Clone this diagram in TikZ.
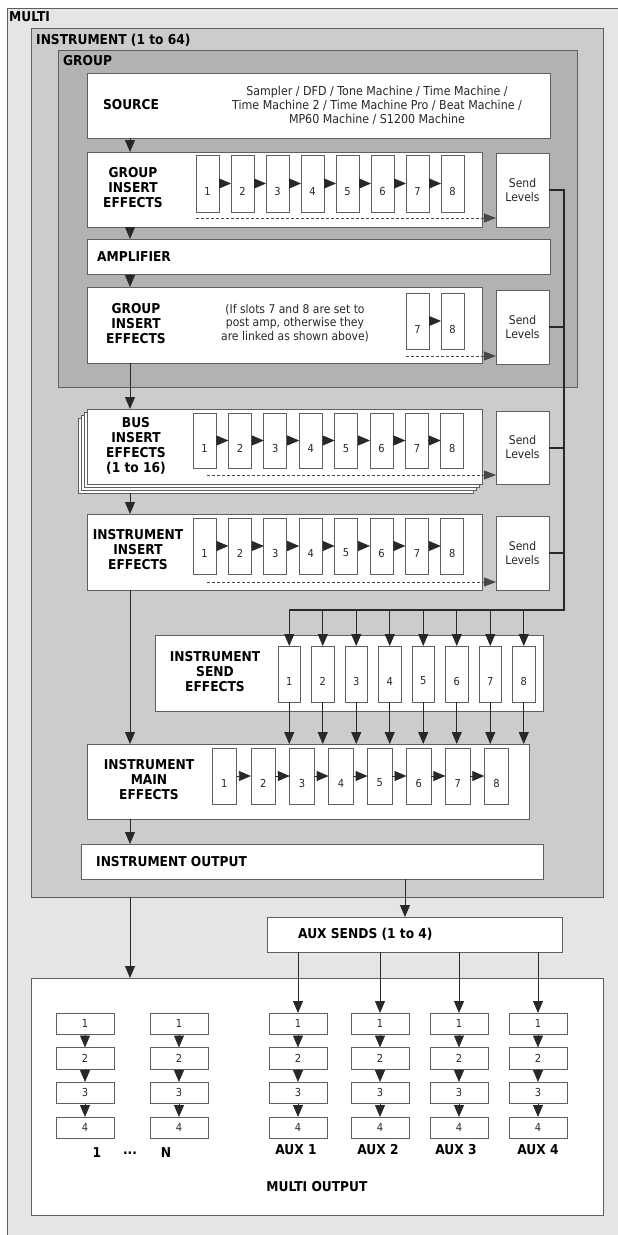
\documentclass[tikz,border=0pt]{standalone}
\usepackage{fontspec}
\setmainfont{DejaVu Sans}[FakeStretch=0.9]
\usetikzlibrary{arrows.meta}

\definecolor{multibg}{RGB}{229,229,229}
\definecolor{instbg}{RGB}{204,204,204}
\definecolor{groupbg}{RGB}{178,178,178}
\definecolor{edge}{RGB}{95,95,95}
\definecolor{ink}{RGB}{40,40,40}

\begin{document}
\begin{tikzpicture}[x=1pt, y=-1pt,
        box/.style={draw=edge, fill=white, anchor=north west, inner sep=0pt, outer sep=0pt, line width=0.8pt},
        frame/.style={draw=edge, anchor=north west, inner sep=0pt, outer sep=0pt, line width=0.8pt},
        head/.style={font=\fontsize{13.6}{15}\selectfont\bfseries, align=center, inner sep=0pt, text=black},
        desc/.style={font=\fontsize{12.3}{14}\selectfont, align=center, inner sep=0pt, text=ink},
        slot/.style={box, minimum width=23pt, minimum height=#1},
        num/.style={font=\fontsize{11}{11}\selectfont, text=ink, inner sep=0pt},
        sendtxt/.style={box, minimum width=53pt, minimum height=74pt, align=center, font=\fontsize{12}{14}\selectfont, text=ink},
        arr/.style={draw=ink, line width=0.8pt, -{Triangle[length=12pt,width=10pt]}},
        sendbus/.style={draw=ink, line width=2pt},
        dashline/.style={draw=ink!85, dash pattern=on 3pt off 2pt, line width=0.8pt, -{Triangle[length=12pt,width=9pt]}}]
    \useasboundingbox (0,0) rectangle (618,1235);
    \fill[multibg] (7,8) rectangle (618,1235);
    \draw[edge, line width=0.8pt] (7,1235) -- (7,8) -- (618,8);
    \node[head, anchor=west] (multilbl) at (9,17) {MULTI};

    \node[frame, fill=instbg, minimum width=571.5pt, minimum height=869pt] (instr) at (31.5,28) {};
    \node[head, anchor=west] (instrlbl) at (36,40) {INSTRUMENT (1 to 64)};
    \node[frame, fill=groupbg, minimum width=519pt, minimum height=337pt] (group) at (58,50) {};
    \node[head, anchor=west] (grouplbl) at (63,61) {GROUP};

    \node[box, minimum width=463pt, minimum height=65pt] (src) at (87,73) {};
    \node[head] (srclbl) at (131,105) {SOURCE};
    \node[desc] (srcdesc) at (377,105) {Sampler / DFD / Tone Machine / Time Machine /\\Time Machine 2 / Time Machine Pro / Beat Machine /\\MP60 Machine / S1200 Machine};

    \node[box, minimum width=395pt, minimum height=75pt] (gi1) at (87,152) {};
    \node[head] (gi1lbl) at (133,188) {GROUP\\INSERT\\EFFECTS};
    \foreach \i [evaluate=\i as \sx using 196+35*(\i-1)] in {1,...,8} {
        \node[slot=57pt] (ga\i) at (\sx,155) {};
        \node[num] at ([yshift=-8pt]ga\i.center) {\i};
    }
    \foreach \i [count=\j from 2] in {1,...,7} \draw[arr] (ga\i.east) -- (ga\j.west);
    \node[sendtxt] (sl1) at (496,153) {Send\\Levels};
    \draw[dashline] (ga1.south west |- 0,218) -- (sl1.west |- 0,218);

    \node[box, minimum width=463pt, minimum height=35pt] (amp) at (87,239) {};
    \node[head, anchor=west] (amplbl) at (97,257) {AMPLIFIER};

    \node[box, minimum width=395pt, minimum height=76pt] (gi2) at (87,287) {};
    \node[head] (gi2lbl) at (136,324) {GROUP\\INSERT\\EFFECTS};
    \node[desc, font=\fontsize{12}{13.5}\selectfont] (gi2note) at (295,323) {(If slots 7 and 8 are set to\\post amp, otherwise they\\are linked as shown above)};
    \node[slot=56pt] (gb7) at (406,293) {};
    \node[num] at ([yshift=-8pt]gb7.center) {7};
    \node[slot=56pt] (gb8) at (441,293) {};
    \node[num] at ([yshift=-8pt]gb8.center) {8};
    \draw[arr] (gb7.east) -- (gb8.west);
    \node[sendtxt] (sl2) at (496,290) {Send\\Levels};
    \draw[dashline] (gb7.south west |- 0,356) -- (sl2.west |- 0,356);

    \node[box, minimum width=395pt, minimum height=75pt] (bus3) at (78,418) {};
    \node[box, minimum width=395pt, minimum height=75pt] (bus2) at (81,415) {};
    \node[box, minimum width=395pt, minimum height=75pt] (bus1) at (84,412) {};
    \node[box, minimum width=395pt, minimum height=75pt] (bus) at (87,409) {};
    \node[head] (buslbl) at (136,446) {BUS\\INSERT\\EFFECTS\\(1 to 16)};
    \foreach \i [evaluate=\i as \sx using 193+35.4*(\i-1)] in {1,...,8} {
        \node[slot=55pt] (ba\i) at (\sx,413) {};
        \node[num] at ([yshift=-8pt]ba\i.center) {\i};
    }
    \foreach \i [count=\j from 2] in {1,...,7} \draw[arr] (ba\i.east) -- (ba\j.west);
    \node[sendtxt, minimum height=73pt] (sl3) at (496,411) {Send\\Levels};
    \draw[dashline] (207,475) -- (sl3.west |- 0,475);

    \node[box, minimum width=395pt, minimum height=76pt] (ii) at (87,514) {};
    \node[head] (iilbl) at (138,550) {INSTRUMENT\\INSERT\\EFFECTS};
    \foreach \i [evaluate=\i as \sx using 193+35.4*(\i-1)] in {1,...,8} {
        \node[slot=56pt] (ia\i) at (\sx,518) {};
        \node[num] at ([yshift=-7pt]ia\i.center) {\i};
    }
    \foreach \i [count=\j from 2] in {1,...,7} \draw[arr] (ia\i.east) -- (ia\j.west);
    \node[sendtxt] (sl4) at (496,516) {Send\\Levels};
    \draw[dashline] (207,582) -- (sl4.west |- 0,582);

    \node[box, minimum width=388pt, minimum height=76pt] (se) at (155,635) {};
    \node[head] (selbl) at (215,672) {INSTRUMENT\\SEND\\EFFECTS};
    \foreach \i [evaluate=\i as \sx using 278+33.5*(\i-1)] in {1,...,8} {
        \node[slot=56pt, minimum width=22.5pt] (sa\i) at (\sx,646) {};
        \node[num] at ([yshift=-7pt]sa\i.center) {\i};
    }

    \node[box, minimum width=442pt, minimum height=75pt] (me) at (87,744) {};
    \node[head] (melbl) at (149,780) {INSTRUMENT\\MAIN\\EFFECTS};
    \foreach \i [evaluate=\i as \sx using 212+38.9*(\i-1)] in {1,...,8} {
        \node[slot=56pt, minimum width=24.5pt] (ma\i) at (\sx,748) {};
        \node[num] at ([yshift=-7pt]ma\i.center) {\i};
    }
    \foreach \i [count=\j from 2] in {1,...,7} \draw[arr] (ma\i.east) -- (ma\j.west);

    \node[box, minimum width=462pt, minimum height=35pt] (out) at (81,844) {};
    \node[head, anchor=west] (outlbl) at (96,862) {INSTRUMENT OUTPUT};

    \node[box, minimum width=295pt, minimum height=35pt] (aux) at (267,917) {};
    \node[head, anchor=west] (auxlbl) at (298,934) {AUX SENDS (1 to 4)};

    \node[box, minimum width=571.5pt, minimum height=237pt] (mo) at (31.5,978) {};
    \foreach \c/\cx in {a/56, b/150, c/269, d/351, e/430, f/509} {
        \foreach \r/\ry in {1/1013, 2/1047.5, 3/1082, 4/1117} {
            \node[box, minimum width=58pt, minimum height=21.5pt, font=\fontsize{11}{11}\selectfont, text=ink] (mo\c\r) at (\cx,\ry) {\r};
        }
        \draw[arr] (mo\c1.south) -- (mo\c2.north);
        \draw[arr] (mo\c2.south) -- (mo\c3.north);
        \draw[arr] (mo\c3.south) -- (mo\c4.north);
    }
    \node[head] (lblone) at (97,1153) {1};
    \node[head] (lbldots) at (130,1153) {...};
    \node[head] (lbln) at (166,1153) {N};
    \node[head] (lblaux1) at (296,1150) {AUX 1};
    \node[head] (lblaux2) at (378,1150) {AUX 2};
    \node[head] (lblaux3) at (456,1150) {AUX 3};
    \node[head] (lblaux4) at (538,1150) {AUX 4};
    \node[head] (molbl) at (317,1187) {MULTI OUTPUT};

    % send levels bus
    \coordinate (tr) at (564,610);
    \draw[sendbus] (sl1.east) -| (tr) -- (tr -| sa1.north);
    \draw[sendbus] (sl2.east) -- (sl2.east -| tr);
    \draw[sendbus] (sl3.east) -- (sl3.east -| tr);
    \draw[sendbus] (sl4.east) -- (sl4.east -| tr);
    \foreach \i in {1,...,8} {
        \draw[arr] (tr -| sa\i.north) -- (sa\i.north);
        \draw[arr] (sa\i.south) -- (sa\i.south |- me.north);
    }

    % main signal path
    \coordinate (spine) at (130,0);
    \coordinate (drop) at (405,0);
    \draw[arr] (src.south -| spine) -- (gi1.north -| spine);
    \draw[arr] (gi1.south -| spine) -- (amp.north -| spine);
    \draw[arr] (amp.south -| spine) -- (gi2.north -| spine);
    \draw[arr] (gi2.south -| spine) -- (bus.north -| spine);
    \draw[arr] (bus3.south -| spine) -- (ii.north -| spine);
    \draw[arr] (ii.south -| spine) -- (me.north -| spine);
    \draw[arr] (me.south -| spine) -- (out.north -| spine);
    \draw[arr] (instr.south -| spine) -- (mo.north -| spine);
    \draw[arr] (out.south -| drop) -- (aux.north -| drop);
    \draw[arr] (aux.south -| moc1.north) -- (moc1.north);
    \draw[arr] (aux.south -| mod1.north) -- (mod1.north);
    \draw[arr] (aux.south -| moe1.north) -- (moe1.north);
    \draw[arr] (aux.south -| mof1.north) -- (mof1.north);
\end{tikzpicture}
\end{document}
